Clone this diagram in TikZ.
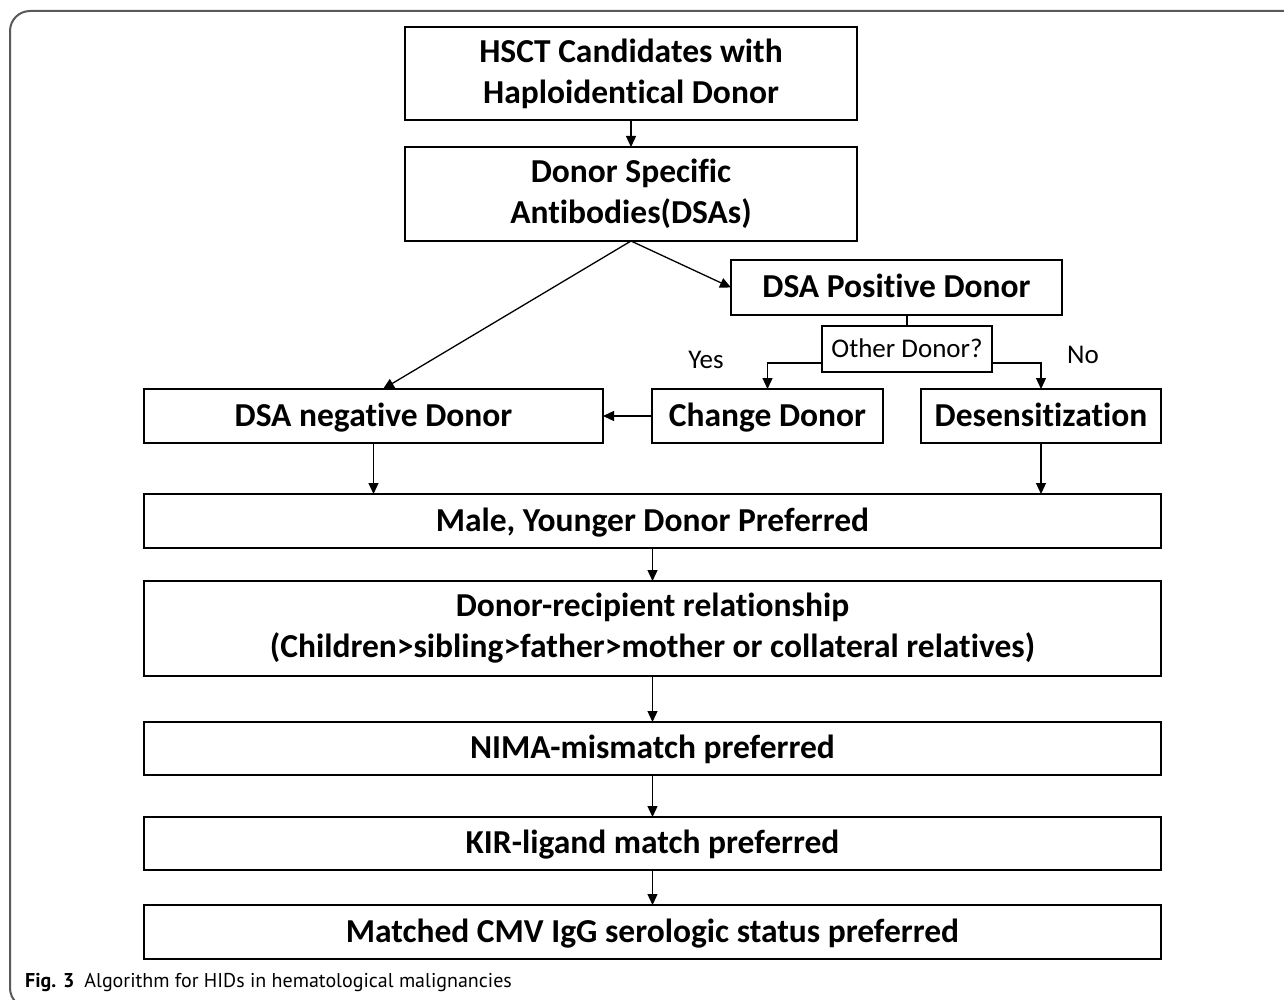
\documentclass[tikz,border=0pt]{standalone}
\usepackage{fontspec}
\setmainfont{Carlito}[Ligatures=NoCommon]
\newfontfamily\capfont{PT Sans}
\usetikzlibrary{arrows.meta}
\begin{document}
\begin{tikzpicture}[x=1pt,y=-1pt,
  box/.style={draw, line width=1.3pt, inner sep=0pt, outer sep=0pt, align=center,
    font=\fontsize{33.5}{41}\selectfont\bfseries},
  one/.style={text height=26pt, text depth=6pt},
  qbox/.style={draw, line width=1.3pt, inner sep=0pt, outer sep=0pt,
    font=\fontsize{27}{32}\selectfont, text height=21pt, text depth=5pt},
  lbl/.style={font=\fontsize{27}{32}\selectfont, inner sep=0pt},
  conn/.style={line width=1.3pt},
  arr/.style={line width=1.3pt, -{Triangle[length=11pt,width=10pt]}}]
\useasboundingbox (0,0) rectangle (1284,1000);
% outer frame
\draw[line width=2pt, draw=black!65, rounded corners=20pt] (1300,11) -- (10,11) -- (10,1008) -- (1300,1008);
% boxes
\node[box, minimum width=452, minimum height=93] (b1) at (631,73.5) {HSCT Candidates with\\Haploidentical Donor};
\node[box, minimum width=452, minimum height=94] (b2) at (631,194) {Donor Specific\\Antibodies(DSAs)};
\node[box, one, minimum width=331, minimum height=55] (pos) at (896.5,287.5) {DSA Positive Donor};
\node[qbox, minimum width=170, minimum height=46] (other) at (907,349) {Other Donor?};
\node[box, one, minimum width=231, minimum height=54] (change) at (767.5,416) {Change Donor};
\node[box, one, minimum width=240, minimum height=54] (desens) at (1041,416) {Desensitization};
\node[box, one, minimum width=459, minimum height=54] (neg) at (373.5,416) {DSA negative Donor};
\node[box, one, minimum width=1017, minimum height=54] (male) at (652.5,521) {Male, Younger Donor Preferred};
\node[box, minimum width=1017, minimum height=95] (rel) at (652.5,628.5) {Donor-recipient relationship\\(Children>sibling>father>mother or collateral relatives)};
\node[box, one, minimum width=1017, minimum height=53] (nima) at (652.5,748.5) {NIMA-mismatch preferred};
\node[box, one, minimum width=1017, minimum height=53] (kir) at (652.5,843.5) {KIR-ligand match preferred};
\node[box, one, minimum width=1017, minimum height=54] (cmv) at (652.5,932) {Matched CMV IgG serologic status preferred};
% labels
\node[lbl] (yes) at (706,360) {Yes};
\node[lbl] (no) at (1083,355) {No};
\node[anchor=west, inner sep=0pt, font=\capfont\fontsize{20}{24}\selectfont] (cap) at (25,982) {\textbf{Fig. 3}\enspace Algorithm for HIDs in hematological malignancies};
% connectors
\draw[arr] (b1.south) -- (b2.north);
\draw[arr] (b2.south) -- ([xshift=9.5pt]neg.north);
\draw[arr] (b2.south) -- (pos.west);
\draw[conn] (pos.south -| other.north) -- (other.north);
\draw[arr] ([yshift=-14pt]other.west) -| (change.north);
\draw[arr] ([yshift=-14pt]other.east) -| (desens.north);
\draw[arr] (change.west) -- (neg.east);
\draw[arr] (neg.south) -- (male.north -| neg.south);
\draw[arr] (desens.south) -- (male.north -| desens.south);
\draw[arr] (male.south) -- (rel.north);
\draw[arr] (rel.south) -- (nima.north);
\draw[arr] (nima.south) -- (kir.north);
\draw[arr] (kir.south) -- (cmv.north);
\end{tikzpicture}
\end{document}
